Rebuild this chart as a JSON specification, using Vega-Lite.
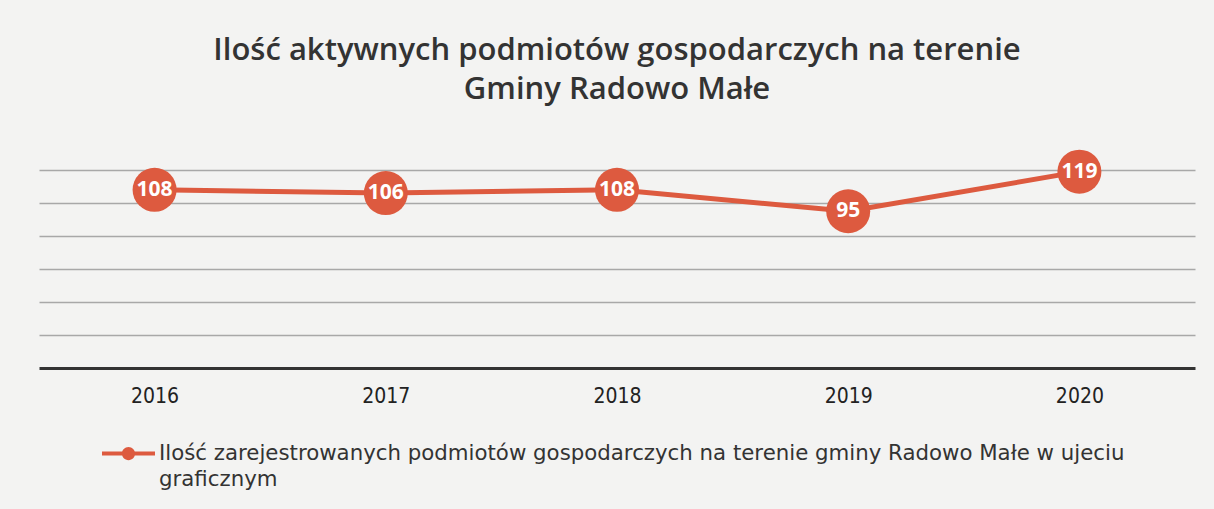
{
  "$schema": "https://vega.github.io/schema/vega-lite/v6.json",
  "autosize": "none",
  "width": 1156,
  "height": 198,
  "padding": {"left": 39, "top": 170, "right": 19, "bottom": 141},
  "background": "#f3f3f2",
  "config": {"view": {"stroke": null}, "style": {"guide-label": {"lineHeight": 26}}},
  "title": {
    "text": ["Ilość aktywnych podmiotów gospodarczych na terenie", "Gminy Radowo Małe"],
    "anchor": "middle",
    "font": "Open Sans",
    "fontSize": 31,
    "fontWeight": 600,
    "color": "#333333",
    "lineHeight": 39,
    "offset": 44
  },
  "data": {
    "values": [
      {"year": "2016", "value": 108},
      {"year": "2017", "value": 106},
      {"year": "2018", "value": 108},
      {"year": "2019", "value": 95},
      {"year": "2020", "value": 119}
    ]
  },
  "encoding": {
    "x": {
      "field": "year",
      "type": "ordinal",
      "scale": {"type": "point", "padding": 0.5},
      "axis": {
        "title": null,
        "labelAngle": 0,
        "labelFont": "DejaVu Sans Condensed, Roboto",
        "labelFontSize": 21,
        "labelColor": "#222222",
        "labelPadding": 17,
        "ticks": false,
        "domainColor": "#333333",
        "domainWidth": 3,
        "grid": false
      }
    },
    "y": {
      "field": "value",
      "type": "quantitative",
      "scale": {"domain": [0, 120], "nice": false},
      "axis": {
        "title": null,
        "labels": false,
        "ticks": false,
        "domain": false,
        "values": [20, 40, 60, 80, 100, 120],
        "gridColor": "#a8a8a8",
        "gridWidth": 1.5
      }
    }
  },
  "layer": [
    {
      "mark": {"type": "line", "strokeWidth": 5},
      "encoding": {
        "color": {
          "datum": "Ilość zarejestrowanych podmiotów gospodarczych na terenie gminy Radowo Małe w ujeciu graficznym",
          "type": "nominal",
          "scale": {"range": ["#dd5a3f"]},
          "legend": {
            "title": null,
            "orient": "none",
            "legendX": 63,
            "legendY": 257,
            "symbolType": "M -1 -0.075 H 1 V 0.075 H -1 Z M -0.25 0 A 0.25 0.25 0 1 1 0.25 0 A 0.25 0.25 0 1 1 -0.25 0 Z",
            "symbolSize": 2809,
            "symbolFillColor": "#dd5a3f",
            "symbolStrokeWidth": 0,
            "labelFont": "DejaVu Sans",
            "labelFontSize": 21.3,
            "labelColor": "#333333",
            "labelLimit": 0,
            "labelOffset": 4,
            "labelExpr": "['Ilość zarejestrowanych podmiotów gospodarczych na terenie gminy Radowo Małe w ujeciu', 'graficznym']"
          }
        }
      }
    },
    {
      "mark": {"type": "point", "filled": true, "opacity": 1, "size": 1936, "color": "#dd5a3f"}
    },
    {
      "mark": {"type": "text", "color": "white", "font": "Open Sans", "fontWeight": "bold", "fontSize": 21},
      "encoding": {"text": {"field": "value", "type": "quantitative"}}
    }
  ]
}
